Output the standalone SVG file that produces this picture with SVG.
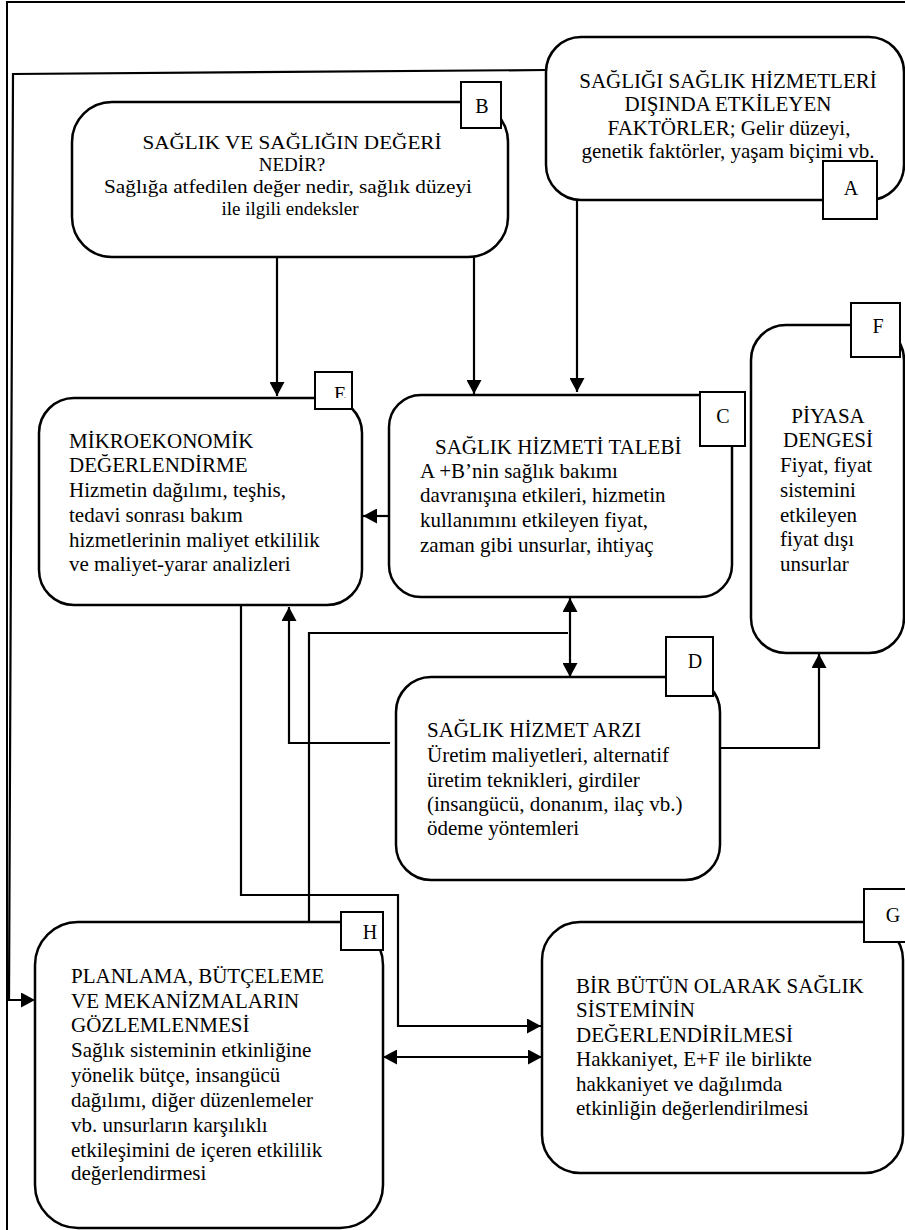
<svg xmlns="http://www.w3.org/2000/svg" width="905" height="1230" viewBox="0 0 905 1230">
<style>
.box{fill:#fff;stroke:#000;stroke-width:2.5}
.lbl{fill:#fff;stroke:#000;stroke-width:2}
.t{font-family:"Liberation Serif","Times New Roman",serif;font-size:21px;fill:#000}
.tb{font-family:"Liberation Serif","Times New Roman",serif;font-size:19px;fill:#000;text-anchor:middle}
.lt{font-family:"Liberation Serif","Times New Roman",serif;font-size:20px;fill:#000;text-anchor:middle}
.c{text-anchor:middle}
.ln{fill:none;stroke:#000;stroke-width:2.2}
.ar{marker-end:url(#ah)}
.ar2{marker-end:url(#ah);marker-start:url(#ah)}
</style>
<defs>
<marker id="ah" viewBox="0 0 14 15" refX="14" refY="7.5" markerWidth="14" markerHeight="15" markerUnits="userSpaceOnUse" orient="auto-start-reverse"><path d="M0,0 L14,7.5 L0,15 z" fill="#000"/></marker>
<clipPath id="clipE"><rect x="315" y="372" width="37" height="26"/></clipPath>
</defs>
<rect width="905" height="1230" fill="#fff"/>
<path d="M7,1230 V2 H905" fill="none" stroke="#000" stroke-width="2"/>

<g id="connectors">
<polyline class="ln ar" points="546,70 13,74 9,1000 35,1000"/>
<line class="ln ar" x1="277" y1="257" x2="277" y2="396"/>
<line class="ln ar" x1="474" y1="257" x2="474" y2="394"/>
<line class="ln ar" x1="577" y1="200" x2="577" y2="392"/>
<line class="ln ar" x1="389" y1="516" x2="363" y2="516"/>
<line class="ln ar2" x1="570" y1="598" x2="570" y2="677"/>
<polyline class="ln ar" points="390,743 289,743 289,607"/>
<polyline class="ln" points="568,633 309,633 309,927"/>
<polyline class="ln ar" points="241,605 241,895 398,895 398,1026 541,1026"/>
<line class="ln ar2" x1="383" y1="1057" x2="542" y2="1057"/>
<polyline class="ln ar" points="720,748 819,748 819,654"/>
</g>

<g id="nodeA">
<rect class="box" x="546" y="37" width="358" height="163" rx="35"/>
<text class="t c" x="728" y="88">SAĞLIĞI SAĞLIK HİZMETLERİ</text>
<text class="t c" x="728" y="111">DIŞINDA ETKİLEYEN</text>
<text class="t c" x="729" y="135">FAKTÖRLER; Gelir düzeyi,</text>
<text class="t c" x="728" y="158">genetik faktörler, yaşam biçimi vb.</text>
<rect class="lbl" x="823" y="161" width="54" height="58"/>
<text class="lt" x="851" y="195">A</text>
</g>

<g id="nodeB">
<rect class="box" x="72" y="102" width="436" height="155" rx="40"/>
<text class="tb" x="292" y="149" textLength="299" lengthAdjust="spacingAndGlyphs">SAĞLIK VE SAĞLIĞIN DEĞERİ</text>
<text class="tb" x="292" y="171">NEDİR?</text>
<text class="tb" x="288" y="193" textLength="368" lengthAdjust="spacingAndGlyphs">Sağlığa atfedilen değer nedir, sağlık düzeyi</text>
<text class="tb" x="290" y="215">ile ilgili endeksler</text>
<rect class="lbl" x="461" y="82" width="40" height="46"/>
<text class="lt" x="482" y="113">B</text>
</g>

<g id="nodeE">
<rect class="box" x="39" y="398" width="323" height="207" rx="35"/>
<text class="t" x="69" y="448">MİKROEKONOMİK</text>
<text class="t" x="69" y="472">DEĞERLENDİRME</text>
<text class="t" x="69" y="497">Hizmetin dağılımı, teşhis,</text>
<text class="t" x="69" y="522">tedavi sonrası bakım</text>
<text class="t" x="69" y="547">hizmetlerinin maliyet etkililik</text>
<text class="t" x="69" y="571">ve maliyet-yarar analizleri</text>
<rect class="lbl" x="315" y="372" width="37" height="37"/>
<text class="lt" x="340" y="401" clip-path="url(#clipE)">E</text>
</g>

<g id="nodeC">
<rect class="box" x="389" y="395" width="343" height="202" rx="32"/>
<text class="t" x="435" y="454">SAĞLIK HİZMETİ TALEBİ</text>
<text class="t" x="420" y="478">A +B’nin sağlık bakımı</text>
<text class="t" x="420" y="502">davranışına etkileri, hizmetin</text>
<text class="t" x="420" y="527">kullanımını etkileyen fiyat,</text>
<text class="t" x="420" y="552">zaman gibi unsurlar, ihtiyaç</text>
<rect class="lbl" x="700" y="392" width="45" height="54"/>
<text class="lt" x="723" y="423">C</text>
</g>

<g id="nodeF">
<rect class="box" x="751" y="325" width="153" height="328" rx="35"/>
<text class="t c" x="828" y="423">PİYASA</text>
<text class="t c" x="828" y="447">DENGESİ</text>
<text class="t" x="780" y="472">Fiyat, fiyat</text>
<text class="t" x="780" y="497">sistemini</text>
<text class="t" x="780" y="522">etkileyen</text>
<text class="t" x="780" y="546">fiyat dışı</text>
<text class="t" x="780" y="571">unsurlar</text>
<rect class="lbl" x="851" y="303" width="49" height="54"/>
<text class="lt" x="878" y="333">F</text>
</g>

<g id="nodeD">
<rect class="box" x="396" y="677" width="324" height="203" rx="35"/>
<text class="t" x="427" y="737">SAĞLIK HİZMET ARZI</text>
<text class="t" x="427" y="762">Üretim maliyetleri, alternatif</text>
<text class="t" x="427" y="787">üretim teknikleri, girdiler</text>
<text class="t" x="427" y="811">(insangücü, donanım, ilaç vb.)</text>
<text class="t" x="427" y="835">ödeme yöntemleri</text>
<rect class="lbl" x="666" y="637" width="47" height="59"/>
<text class="lt" x="695" y="668">D</text>
</g>

<g id="nodeH">
<rect class="box" x="35" y="922" width="348" height="306" rx="43"/>
<text class="t" x="71" y="983">PLANLAMA, BÜTÇELEME</text>
<text class="t" x="71" y="1008">VE MEKANİZMALARIN</text>
<text class="t" x="71" y="1032">GÖZLEMLENMESİ</text>
<text class="t" x="71" y="1057">Sağlık sisteminin etkinliğine</text>
<text class="t" x="71" y="1082">yönelik bütçe, insangücü</text>
<text class="t" x="71" y="1107">dağılımı, diğer düzenlemeler</text>
<text class="t" x="71" y="1132">vb. unsurların karşılıklı</text>
<text class="t" x="71" y="1157">etkileşimini de içeren etkililik</text>
<text class="t" x="71" y="1180">değerlendirmesi</text>
<rect class="lbl" x="341" y="912" width="42" height="38"/>
<text class="lt" x="370" y="939">H</text>
</g>

<g id="nodeG">
<rect class="box" x="542" y="922" width="361" height="251" rx="38"/>
<text class="t" x="576" y="993">BİR BÜTÜN OLARAK SAĞLIK</text>
<text class="t" x="576" y="1017">SİSTEMİNİN</text>
<text class="t" x="576" y="1042">DEĞERLENDİRİLMESİ</text>
<text class="t" x="576" y="1066">Hakkaniyet, E+F ile birlikte</text>
<text class="t" x="576" y="1091">hakkaniyet ve dağılımda</text>
<text class="t" x="576" y="1115">etkinliğin değerlendirilmesi</text>
<rect class="lbl" x="864" y="889" width="44" height="53"/>
<text class="lt" x="893" y="922">G</text>
</g>
</svg>
